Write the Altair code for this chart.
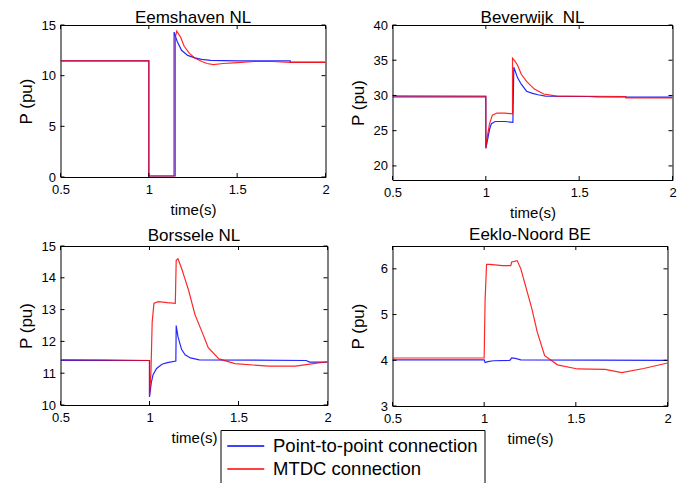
import altair as alt
import pandas as pd

FONT = "Liberation Sans"
SERIES = ["Point-to-point connection", "MTDC connection"]
COLORS = ["#0000ff", "#ff0000"]
X_TICKS = [0.5, 1, 1.5, 2]

# ---- Eemshaven NL ----
EEM_BLUE_T = [0.5, 1.0, 1.0, 1.143, 1.143, 1.16, 1.185, 1.22, 1.26, 1.3, 1.35, 1.5, 1.8, 1.8, 2.0]
EEM_BLUE_P = [11.45, 11.45, 0.1, 0.1, 14.3, 13.4, 12.5, 12.0, 11.75, 11.6, 11.5, 11.45, 11.45, 11.35, 11.35]
EEM_RED_T = [0.5, 1.0, 1.0, 1.15, 1.15, 1.158, 1.18, 1.2, 1.23, 1.26, 1.3, 1.33, 1.365, 1.42, 1.48, 1.6, 1.7, 1.8, 2.0]
EEM_RED_P = [11.45, 11.45, 0.1, 0.1, 13.8, 14.4, 13.8, 12.9, 12.2, 11.75, 11.4, 11.2, 11.1, 11.2, 11.27, 11.4, 11.4, 11.3, 11.3]
EEM_Y_DOMAIN = [0, 15]
EEM_Y_TICKS = [0, 5, 10, 15]

# ---- Beverwijk NL ----
BEV_BLUE_T = [0.5, 1.0, 1.0, 1.01, 1.02, 1.03, 1.05, 1.1, 1.145, 1.15, 1.17, 1.19, 1.218, 1.25, 1.28, 1.32, 1.55, 1.6, 2.0]
BEV_BLUE_P = [29.8, 29.8, 22.5, 23.8, 25.2, 26.0, 26.3, 26.3, 26.2, 34.0, 32.5, 31.6, 30.6, 30.3, 30.1, 29.9, 29.85, 29.8, 29.75]
BEV_RED_T = [0.5, 1.0, 1.0, 1.01, 1.02, 1.035, 1.06, 1.1, 1.143, 1.143, 1.155, 1.17, 1.19, 1.218, 1.26, 1.31, 1.38, 1.75, 1.75, 2.0]
BEV_RED_P = [29.95, 29.9, 22.5, 24.5, 26.0, 27.2, 27.5, 27.5, 27.4, 35.3, 34.9, 34.3, 33.0, 32.0, 30.9, 30.2, 29.9, 29.85, 29.65, 29.65]
BEV_Y_DOMAIN = [18, 40]
BEV_Y_TICKS = [20, 25, 30, 35, 40]

# ---- Borssele NL ----
BOR_BLUE_T = [0.5, 1.0, 1.0, 1.01, 1.02, 1.04, 1.07, 1.1, 1.148, 1.15, 1.16, 1.18, 1.2, 1.23, 1.28, 1.88, 1.9, 2.0]
BOR_BLUE_P = [11.4, 11.4, 10.25, 10.7, 10.95, 11.15, 11.28, 11.33, 11.38, 12.5, 12.15, 11.75, 11.58, 11.48, 11.42, 11.4, 11.35, 11.35]
BOR_RED_T = [0.5, 0.75, 1.0, 1.0, 1.008, 1.015, 1.025, 1.05, 1.1, 1.145, 1.15, 1.16, 1.18, 1.2, 1.22, 1.255, 1.295, 1.33, 1.39, 1.48, 1.67, 1.82, 1.92, 2.0]
BOR_RED_P = [11.43, 11.42, 11.4, 10.3, 11.0, 12.6, 13.2, 13.25, 13.22, 13.2, 14.55, 14.6, 14.3, 13.95, 13.6, 12.85, 12.3, 11.8, 11.45, 11.3, 11.22, 11.22, 11.3, 11.36]
BOR_Y_DOMAIN = [10, 15]
BOR_Y_TICKS = [10, 11, 12, 13, 14, 15]

# ---- Eeklo-Noord BE ----
EEK_BLUE_T = [0.5, 1.0, 1.005, 1.02, 1.05, 1.14, 1.15, 1.17, 1.2, 2.0]
EEK_BLUE_P = [4.01, 4.01, 3.95, 3.97, 3.99, 4.0, 4.05, 4.04, 4.01, 4.0]
EEK_RED_T = [0.5, 1.0, 1.005, 1.013, 1.03, 1.1, 1.145, 1.15, 1.18, 1.2, 1.22, 1.26, 1.29, 1.33, 1.4, 1.51, 1.66, 1.75, 1.87, 2.0]
EEK_RED_P = [4.05, 4.05, 5.3, 6.1, 6.1, 6.07, 6.07, 6.15, 6.18, 6.0, 5.71, 5.13, 4.61, 4.1, 3.9, 3.81, 3.8, 3.73, 3.82, 3.94]
EEK_Y_DOMAIN = [3, 6.5]
EEK_Y_TICKS = [3, 4, 5, 6]

TICK_LEN = 4


def frame(t_b, p_b, t_r, p_r):
    rows = []
    for i, (t, p) in enumerate(zip(t_b, p_b)):
        rows.append({"t": t, "p": p, "s": SERIES[0], "i": i})
    for i, (t, p) in enumerate(zip(t_r, p_r)):
        rows.append({"t": t, "p": p, "s": SERIES[1], "i": i})
    return pd.DataFrame(rows)


LEGEND = alt.Legend(
    title=None, orient="none", legendX=160, legendY=405, direction="vertical",
    strokeColor="black", fillColor="white", padding=6,
    symbolType="M-1,0H3", symbolSize=342, symbolStrokeWidth=1.3,
    labelFontSize=18.5, labelOffset=26.5, rowPadding=3,
    labelFont=FONT, labelColor="black", cornerRadius=0, labelLimit=400,
)


def panel(title, df, ydom, yticks, w, h, title_offset):
    xs = alt.Scale(domain=[0.5, 2], nice=False)
    ys = alt.Scale(domain=ydom, nice=False, zero=False)
    xaxis = alt.Axis(
        orient="bottom", values=X_TICKS, format="~g", title="time(s)",
        ticks=False, tickSize=0, domain=False, grid=False, labelPadding=6.5,
        titlePadding=5.5, labelFontSize=13, titleFontSize=15,
        labelFlush=False, labelOverlap=False)
    yaxis = alt.Axis(
        orient="left", values=yticks, format="d", title="P (pu)",
        ticks=False, tickSize=0, domain=False, grid=False, labelPadding=5,
        minExtent=20, maxExtent=20, titlePadding=5.5,
        titleFontSize=17, labelFontSize=13, labelOverlap=False)
    lines = alt.Chart(df).mark_line(strokeWidth=1.2, clip=True, strokeOpacity=0.85).encode(
        x=alt.X("t:Q", scale=xs, axis=xaxis),
        y=alt.Y("p:Q", scale=ys, axis=yaxis),
        color=alt.Color("s:N", scale=alt.Scale(domain=SERIES, range=COLORS), legend=LEGEND),
        order="i:Q",
    )
    xt = pd.DataFrame({"t": X_TICKS})
    yt = pd.DataFrame({"p": yticks})
    top_ticks = alt.Chart(xt).mark_rule(color="black", strokeWidth=1).encode(
        x=alt.X("t:Q", scale=xs, axis=xaxis), y=alt.value(0), y2=alt.value(TICK_LEN))
    bottom_ticks = alt.Chart(xt).mark_rule(color="black", strokeWidth=1).encode(
        x=alt.X("t:Q", scale=xs, axis=xaxis), y=alt.value(h), y2=alt.value(h - TICK_LEN))
    left_ticks = alt.Chart(yt).mark_rule(color="black", strokeWidth=1).encode(
        y=alt.Y("p:Q", scale=ys, axis=yaxis), x=alt.value(0), x2=alt.value(TICK_LEN))
    right_ticks = alt.Chart(yt).mark_rule(color="black", strokeWidth=1).encode(
        y=alt.Y("p:Q", scale=ys, axis=yaxis), x=alt.value(w), x2=alt.value(w - TICK_LEN))
    return alt.layer(lines, top_ticks, bottom_ticks, left_ticks, right_ticks).properties(
        width=w, height=h,
        title=alt.Title(title, fontSize=17, offset=title_offset, frame="group",
                        fontWeight="normal", color="black", font=FONT),
    )


p1 = panel("Eemshaven NL", frame(EEM_BLUE_T, EEM_BLUE_P, EEM_RED_T, EEM_RED_P), EEM_Y_DOMAIN, EEM_Y_TICKS, 265, 152, -7.5)
p2 = panel("Beverwijk \u00a0NL", frame(BEV_BLUE_T, BEV_BLUE_P, BEV_RED_T, BEV_RED_P), BEV_Y_DOMAIN, BEV_Y_TICKS, 280, 155, -7.5)
p3 = panel("Borssele NL", frame(BOR_BLUE_T, BOR_BLUE_P, BOR_RED_T, BOR_RED_P), BOR_Y_DOMAIN, BOR_Y_TICKS, 267, 159, -4.5)
p4 = panel("Eeklo-Noord BE", frame(EEK_BLUE_T, EEK_BLUE_P, EEK_RED_T, EEK_RED_P), EEK_Y_DOMAIN, EEK_Y_TICKS, 275, 160, 2)

row1 = alt.hconcat(p1, p2, spacing=18)
row2 = alt.hconcat(p3, p4, spacing=16)

chart = alt.vconcat(row1, row2, spacing=4).properties(
    padding={"left": 8.5, "top": 0, "right": 0, "bottom": 0},
).configure(font=FONT).configure_view(
    stroke="black", strokeWidth=1,
).configure_axis(
    labelColor="black", titleColor="black",
    labelFont=FONT, titleFont=FONT, titleFontWeight="normal",
)

chart.save("out.html", embed_options={"renderer": "svg", "actions": False})
